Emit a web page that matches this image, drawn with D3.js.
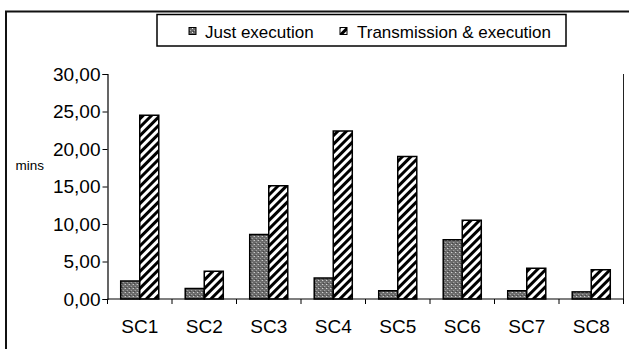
<!DOCTYPE html>
<html>
<head>
<meta charset="utf-8">
<script src="https://cdn.jsdelivr.net/npm/d3@7"></script>
<style>
  html, body { margin: 0; padding: 0; background: #fff; }
  svg { display: block; font-family: "Liberation Sans", Arial, sans-serif; }
</style>
</head>
<body>
<svg id="chart" width="629" height="349"></svg>
<script>
// Execution time per scenario, in minutes
const categories = ["SC1", "SC2", "SC3", "SC4", "SC5", "SC6", "SC7", "SC8"];
const justExecution = [2.4, 1.4, 8.6, 2.8, 1.1, 7.9, 1.1, 0.95];
const transmissionExecution = [24.5, 3.7, 15.1, 22.4, 19.0, 10.5, 4.1, 3.9];
const seriesNames = ["Just execution", "Transmission & execution"];
const yTicks = [0, 5, 10, 15, 20, 25, 30];
const yLabel = "mins";

const svg = d3.select("#chart");
const plot = { left: 107.5, right: 623.5, top: 74, bottom: 299 };

// Fill patterns: stippled grey and black diagonal hatch
const defs = svg.append("defs");
const stip = defs.append("pattern")
  .attr("id", "stipple").attr("patternUnits", "userSpaceOnUse")
  .attr("width", 4).attr("height", 4);
stip.append("rect").attr("width", 4).attr("height", 4).attr("fill", "#6a6a6a");
stip.append("rect").attr("x", 0).attr("y", 0).attr("width", 1).attr("height", 1).attr("fill", "#f0f0f0");
stip.append("rect").attr("x", 2).attr("y", 2).attr("width", 1).attr("height", 1).attr("fill", "#b0b0b0");
stip.append("rect").attr("x", 1).attr("y", 3).attr("width", 1).attr("height", 1).attr("fill", "#3a3a3a");

const hatch = defs.append("pattern")
  .attr("id", "hatch").attr("patternUnits", "userSpaceOnUse")
  .attr("width", 6).attr("height", 6)
  .attr("patternTransform", "rotate(45)");
hatch.append("rect").attr("width", 6).attr("height", 6).attr("fill", "#fff");
hatch.append("rect").attr("x", 0).attr("width", 3).attr("height", 6).attr("fill", "#000");

const fills = ["url(#stipple)", "url(#hatch)"];

// Outer chart frame (open towards right and bottom)
svg.append("path")
  .attr("d", `M629,11.5 H6 V349`)
  .attr("fill", "none").attr("stroke", "#111").attr("stroke-width", 2);

// Scales
const x = d3.scaleBand().domain(categories)
  .range([plot.left, plot.right]).paddingInner(0.41).paddingOuter(0.205);
const x1 = d3.scaleBand().domain(seriesNames).range([0, x.bandwidth()]);
const y = d3.scaleLinear().domain([0, 30]).range([plot.bottom, plot.top]);

const locale = d3.formatLocale({ decimal: ",", thousands: ".", grouping: [3], currency: ["", ""] });
const fmt = locale.format(".2f");

// Bars
const rows = categories.map((c, i) => ({ cat: c, vals: [justExecution[i], transmissionExecution[i]] }));
const groups = svg.append("g").selectAll("g").data(rows).join("g")
  .attr("transform", d => `translate(${x(d.cat)},0)`);
groups.selectAll("rect")
  .data(d => d.vals.map((v, k) => ({ v, k })))
  .join("rect")
  .attr("x", d => x1(seriesNames[d.k]))
  .attr("y", d => y(d.v))
  .attr("width", x1.bandwidth())
  .attr("height", d => y(0) - y(d.v))
  .attr("fill", d => fills[d.k])
  .attr("stroke", "#000").attr("stroke-width", 1.5);

// Right edge of the plot area
svg.append("line")
  .attr("x1", plot.right).attr("x2", plot.right)
  .attr("y1", plot.top).attr("y2", plot.bottom)
  .attr("stroke", "#222").attr("stroke-width", 1);

// Y axis
const yAxis = svg.append("g")
  .attr("transform", `translate(${plot.left},0)`)
  .call(d3.axisLeft(y).tickValues(yTicks).tickFormat(fmt).tickSizeOuter(0).tickSize(5).tickPadding(2));
yAxis.select(".domain").attr("stroke", "#000").attr("stroke-width", 1.2);
yAxis.selectAll(".tick line").attr("stroke", "#000");
yAxis.selectAll("text").attr("font-size", 19).attr("fill", "#000")
  .attr("font-family", "Liberation Sans, Arial, sans-serif");

// X axis with ticks between categories
const step = x.step();
const boundaries = categories.map(c => x(c) - step * x.paddingInner() / 2).concat([plot.right]);
const xAxis = svg.append("g");
xAxis.append("line")
  .attr("x1", plot.left).attr("x2", plot.right)
  .attr("y1", plot.bottom).attr("y2", plot.bottom)
  .attr("stroke", "#000").attr("stroke-width", 1.2);
xAxis.selectAll("line.tk").data(boundaries).join("line")
  .attr("class", "tk")
  .attr("x1", d => d).attr("x2", d => d)
  .attr("y1", plot.bottom).attr("y2", plot.bottom + 5)
  .attr("stroke", "#000");
xAxis.selectAll("text").data(categories).join("text")
  .attr("x", d => x(d) + x.bandwidth() / 2)
  .attr("y", 333)
  .attr("text-anchor", "middle")
  .attr("font-size", 19).attr("fill", "#000")
  .text(d => d);

// Y axis title
svg.append("text")
  .attr("x", 15.5).attr("y", 170)
  .attr("font-size", 13.5).attr("fill", "#000")
  .text(yLabel);

// Legend
const legend = svg.append("g");
legend.append("rect")
  .attr("x", 157).attr("y", 14.5).attr("width", 409).attr("height", 31.5)
  .attr("fill", "#fff").attr("stroke", "#000").attr("stroke-width", 1.5);
const legendItems = [
  { name: seriesNames[0], fill: fills[0], sx: 189, tx: 205 },
  { name: seriesNames[1], fill: fills[1], sx: 340, tx: 357 }
];
legend.selectAll("g.item").data(legendItems).join("g").attr("class", "item")
  .each(function (d) {
    const g = d3.select(this);
    g.append("rect")
      .attr("x", d.sx).attr("y", 27.5).attr("width", 7).attr("height", 7)
      .attr("fill", d.fill).attr("stroke", "#000").attr("stroke-width", 1);
    g.append("text")
      .attr("x", d.tx).attr("y", 37.5)
      .attr("font-size", 17).attr("fill", "#000")
      .text(d.name);
  });
</script>
</body>
</html>
